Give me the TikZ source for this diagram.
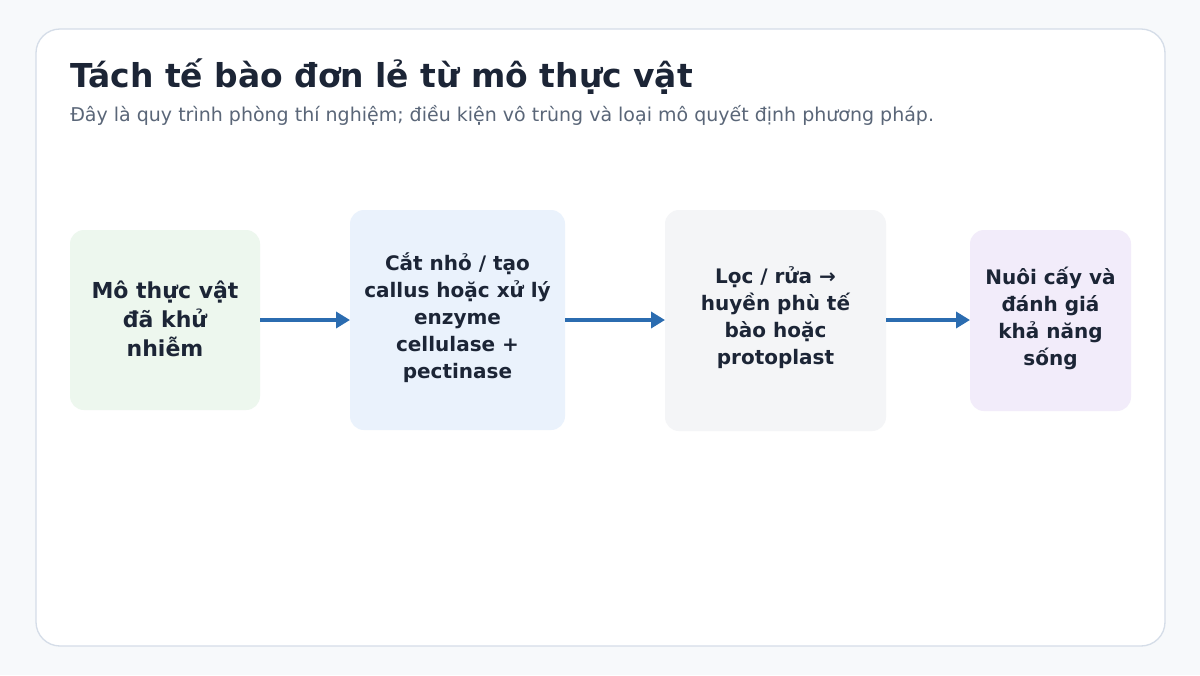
\documentclass[tikz,border=0pt]{standalone}
\usepackage{fontspec}
\setmainfont{DejaVu Sans}
\usetikzlibrary{arrows.meta}
\definecolor{bgc}{HTML}{F7F9FB}
\definecolor{panelborder}{HTML}{D5DDE8}
\definecolor{titlec}{HTML}{1C2536}
\definecolor{subc}{HTML}{5A6678}
\definecolor{greenf}{HTML}{EDF7EE}
\definecolor{bluef}{HTML}{EAF2FC}
\definecolor{grayf}{HTML}{F4F5F7}
\definecolor{purplef}{HTML}{F2ECFA}
\definecolor{arrowc}{HTML}{2B6CB0}
\begin{document}
\begin{tikzpicture}[x=0.75pt,y=-0.75pt,
  stepbox/.style={rounded corners=10.5pt,inner sep=0pt,outer sep=0pt,draw=none},
  steptext/.style={align=center,text=titlec,font=\bfseries\fontsize{15pt}{20.25pt}\selectfont},
  bigtext/.style={align=center,text=titlec,font=\bfseries\fontsize{16.5pt}{21.75pt}\selectfont},
  flow/.style={draw=arrowc,line width=3.4pt,-{Triangle[length=10.5pt,width=12pt]}}]
\fill[bgc] (0,0) rectangle (1200,675);
\useasboundingbox (0,0) rectangle (1200,675);
\draw[fill=white,draw=panelborder,line width=1pt,rounded corners=18pt] (36,29) rectangle (1165,646);
\node[anchor=base west,inner sep=0pt,text=titlec,font=\bfseries\fontsize{24.7pt}{29pt}\selectfont] (title) at (70,87) {Tách tế bào đơn lẻ từ mô thực vật};
\node[anchor=base west,inner sep=0pt,text=subc,font=\fontsize{14.25pt}{17pt}\selectfont] (sub) at (70,121) {Đây là quy trình phòng thí nghiệm; điều kiện vô trùng và loại mô quyết định phương pháp.};
% boxes
\fill[greenf,stepbox] (70,230) rectangle (260,410);
\coordinate (b1w) at (70,320); \coordinate (b1e) at (260,320);
\node[bigtext] (t1) at (165,319) {Mô thực vật\\đã khử\\nhiễm};
\fill[bluef,stepbox] (350,210) rectangle (565,430);
\coordinate (b2w) at (350,320); \coordinate (b2e) at (565,320);
\node[steptext] (t2) at (457.5,318) {Cắt nhỏ / tạo\\callus hoặc xử lý\\enzyme\\cellulase +\\pectinase};
\fill[grayf,stepbox] (665,210) rectangle (886,431);
\coordinate (b3w) at (665,320); \coordinate (b3e) at (886,320);
\node[steptext] (t3) at (775.5,318) {Lọc / rửa →\\huyền phù tế\\bào hoặc\\protoplast};
\fill[purplef,stepbox] (970,230) rectangle (1131,411);
\coordinate (b4w) at (970,320);
\node[steptext] (t4) at (1050.5,318) {Nuôi cấy và\\đánh giá\\khả năng\\sống};
\draw[flow] (b1e) -- (b2w);
\draw[flow] (b2e) -- (b3w);
\draw[flow] (b3e) -- (b4w);
\end{tikzpicture}
\end{document}
